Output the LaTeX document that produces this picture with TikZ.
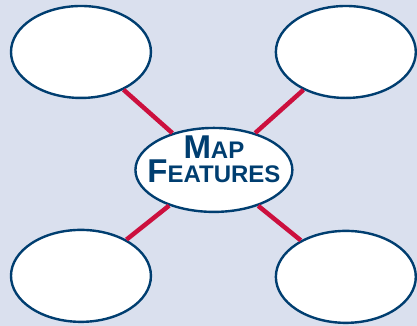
\documentclass[tikz,border=0pt]{standalone}
\usepackage{fontspec}
\setmainfont{Liberation Sans}
\usetikzlibrary{shapes}
\definecolor{mapbg}{RGB}{218,224,238}
\definecolor{mapblue}{RGB}{0,62,112}
\definecolor{mapred}{RGB}{204,16,62}
\begin{document}
\begin{tikzpicture}[x=1pt,y=-1pt]
\tikzstyle{bubble}=[ellipse,draw=mapblue,line width=2.4pt,fill=white,minimum width=140pt,minimum height=92pt,inner sep=0pt]
\tikzstyle{hub}=[bubble,minimum width=157pt,minimum height=84pt]
\tikzstyle{spoke}=[draw=mapred,line width=4.5pt]
\fill[mapbg] (0,0) rectangle (417,326);
\node[bubble] (nw) at (81,52) {};
\node[bubble] (ne) at (346,52) {};
\node[bubble] (sw) at (81,276) {};
\node[bubble] (se) at (346,277) {};
\node[hub] (hub) at (214,170) {};
\node[align=center,text=mapblue,font=\bfseries,inner sep=0pt] (title) at ([yshift=11pt]hub.center)
  {\fontsize{33}{24}\selectfont M{\fontsize{24}{24}\selectfont AP}\\
   \fontsize{33}{24}\selectfont F{\fontsize{24}{24}\selectfont EATURES}};
\draw[spoke] (nw) -- (hub);
\draw[spoke] (ne) -- (hub);
\draw[spoke] (sw) -- (hub);
\draw[spoke] (se) -- (hub);
\end{tikzpicture}
\end{document}
